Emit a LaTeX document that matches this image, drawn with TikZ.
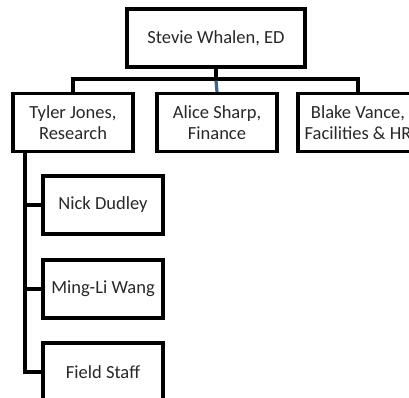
\documentclass[tikz,border=0pt]{standalone}
\usepackage{fontspec}
\setmainfont{Carlito}
\usetikzlibrary{positioning}

\definecolor{lineblue}{RGB}{55,100,150}
\definecolor{textgray}{RGB}{40,40,40}

\tikzset{
  person/.style={draw, line width=3.2pt, fill=white, minimum width=120pt, minimum height=58pt,
                 align=center, inner sep=2pt, text=textgray, font=\fontsize{18.5}{20.5}\selectfont},
  link/.style={line width=3.2pt}
}

\begin{document}
\begin{tikzpicture}[x=1pt, y=-1pt, node distance=144pt]
 \useasboundingbox (0,0) rectangle (409,397);

 \node[person, minimum width=178pt, name=ed]            at (216,38)    {Stevie Whalen, ED};
 \node[person, name=tyler]                               at (73,122.5)  {Tyler Jones,\\Research};
 \node[person, right of=tyler,             name=alice]   {Alice Sharp,\\Finance};
 \node[person, right of=alice, xshift=-3pt, name=blake]  {Blake Vance,\\Facilities \& HR};

 \node[person, below of=tyler, xshift=30pt, yshift=61.5pt, name=nick]  {Nick Dudley};
 \node[person, below of=nick,  yshift=60pt,                name=ming]  {Ming-Li Wang};
 \node[person, below of=ming,  yshift=61pt,                name=field] {Field Staff};

 \coordinate (bar)  at (216,79);
 \coordinate (spine) at (25,152);

 \draw[link] (ed.south) -- (bar);
 \draw[link] (tyler.north) |- (bar) -| (blake.north);
 \draw[link, lineblue] (bar) ++(0,1.6) -- (alice.north);

 \draw[link] (spine) |- (field.west);
 \draw[link] (spine |- nick.west) -- (nick.west);
 \draw[link] (spine |- ming.west) -- (ming.west);

\end{tikzpicture}
\end{document}
